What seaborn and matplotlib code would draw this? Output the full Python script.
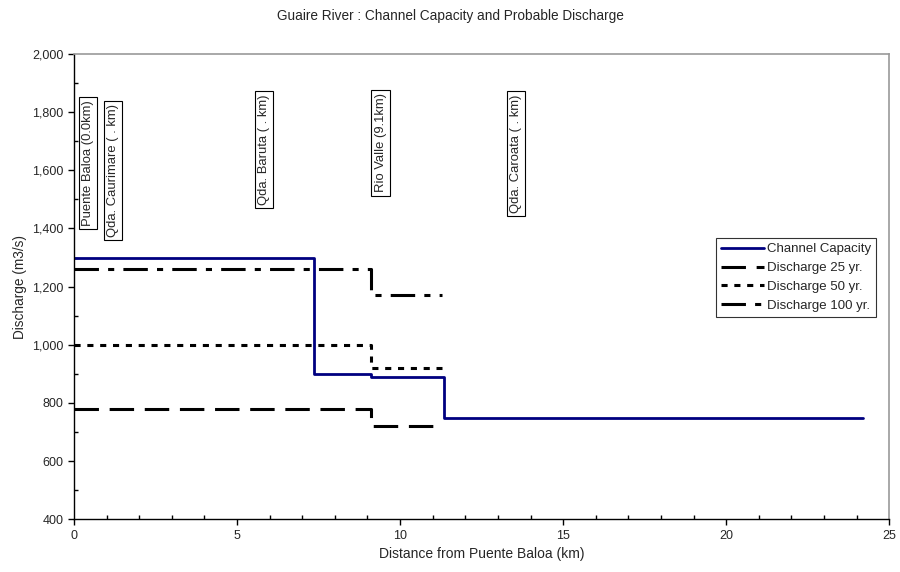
import matplotlib
matplotlib.use("Agg")
import matplotlib.pyplot as plt
import matplotlib.ticker as mticker
import seaborn as sns
import pandas as pd

# Data
cap_x = [0, 7.35, 9.1, 11.35, 24.2]
cap_y = [1300, 900, 890, 750, 750]
dis_x = [0, 9.1, 11.3]
dis25 = [780, 720, 720]
dis50 = [1000, 920, 920]
dis100 = [1260, 1170, 1170]
labels = ["Channel Capacity", "Discharge 25 yr.", "Discharge 50 yr.", "Discharge 100 yr."]
ann_text = ["Puente Baloa (0.0km)", "Qda. Caurimare ( . km)", "Qda. Baruta ( . km)",
            "Rio Valle (9.1km)", "Qda. Caroata ( . km)"]
ann_x = [0.43, 1.2, 5.83, 9.4, 13.55]
ann_y = [1842, 1828, 1862, 1865, 1862]

sns.set_style("white")
plt.rcParams['font.family'] = ['Liberation Sans', 'DejaVu Sans']

fig = plt.figure(figsize=(9, 5.72), dpi=100)
ax = fig.add_axes([0.0822, 0.0921, 0.9058, 0.8135])

sns.lineplot(x=cap_x, y=cap_y, ax=ax, color="#000080", lw=2, drawstyle="steps-post",
             estimator=None, label=labels[0])
sns.lineplot(x=dis_x, y=dis25, ax=ax, color="black", lw=2.2, drawstyle="steps-post",
             estimator=None, label=labels[1], linestyle=(0, (8, 3.5)))
sns.lineplot(x=dis_x, y=dis50, ax=ax, color="black", lw=2.2, drawstyle="steps-post",
             estimator=None, label=labels[2], linestyle=(0, (2, 2.2)))
sns.lineplot(x=dis_x, y=dis100, ax=ax, color="black", lw=2.2, drawstyle="steps-post",
             estimator=None, label=labels[3], linestyle=(0, (8, 3, 2, 3)))

for t, x, y in zip(ann_text, ann_x, ann_y):
    ax.text(x, y, t, rotation=90, ha="center", va="top", fontsize=9.4,
            bbox=dict(boxstyle="square,pad=0.25", fc="white", ec="black", lw=0.8))

ax.set_xlim(0, 25)
ax.set_ylim(400, 2000)
ax.xaxis.set_major_locator(mticker.MultipleLocator(5))
ax.xaxis.set_minor_locator(mticker.MultipleLocator(1))
ax.yaxis.set_major_locator(mticker.MultipleLocator(200))
ax.yaxis.set_minor_locator(mticker.MultipleLocator(100))
ax.yaxis.set_major_formatter(mticker.FuncFormatter(lambda v, p: f"{int(v):,}"))
ax.tick_params(which="major", direction="out", length=4, width=1, labelsize=9, color="black")
ax.tick_params(which="minor", direction="in", length=3, width=1, color="black")
ax.tick_params(axis="x", which="both", bottom=True)
ax.tick_params(axis="y", which="both", left=True)

for s in ["left", "bottom"]:
    ax.spines[s].set_color("black")
    ax.spines[s].set_linewidth(1)
for s in ["top", "right"]:
    ax.spines[s].set_color("#999999")
    ax.spines[s].set_linewidth(1.2)

ax.set_xlabel("Distance from Puente Baloa (km)", fontsize=10)
ax.set_ylabel("Discharge (m3/s)", fontsize=9.8)
fig.suptitle("Guaire River : Channel Capacity and Probable Discharge", fontsize=9.8, y=0.985)

leg = ax.legend(loc="upper left", bbox_to_anchor=(0.787, 0.605), fontsize=9.5, frameon=True,
                fancybox=False, edgecolor="black", handlelength=3.3, handletextpad=0.2,
                borderpad=0.4, labelspacing=0.5, borderaxespad=0)
leg.get_frame().set_linewidth(0.8)

fig.savefig("out.png", dpi=100)
